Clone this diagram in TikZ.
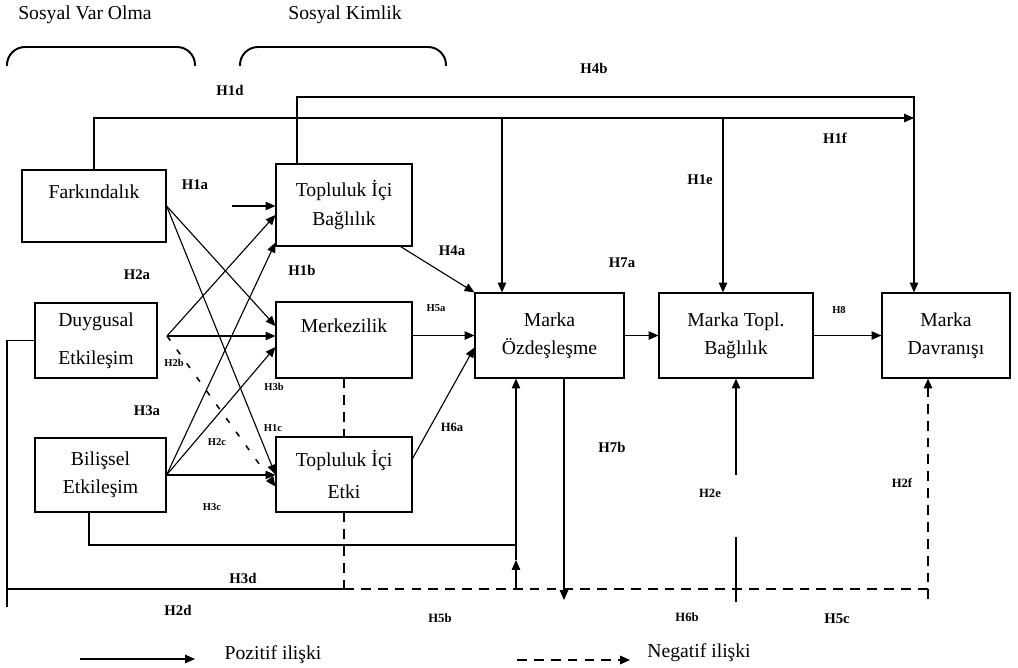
\documentclass[tikz,border=0pt]{standalone}
\usepackage{fontspec}
\setmainfont{Liberation Serif}
\usetikzlibrary{arrows.meta}

\begin{document}
\begin{tikzpicture}[x=0.025cm, y=-0.025cm,
    >={Triangle[length=7pt,width=6pt]},
    line width=0.8pt,
    box/.style={draw, rectangle, inner sep=0pt, align=center, font=\fontsize{14}{20}\selectfont},
    head/.style={font=\fontsize{14}{16}\selectfont},
    lab/.style={font=\fontsize{10.5}{12}\selectfont\bfseries, inner sep=1pt},
    labm/.style={font=\fontsize{9}{10}\selectfont\bfseries, inner sep=1pt},
    labs/.style={font=\fontsize{7.5}{9}\selectfont\bfseries, inner sep=1pt},
    neg/.style={dash pattern=on 7pt off 5pt, line width=1.1pt},
    negthin/.style={dash pattern=on 4pt off 8pt, line width=1.1pt},
    grp/.style={line width=1.4pt, rounded corners=0.45cm}]

    \useasboundingbox (0,0) rectangle (1018,668);

    % Group headings and brackets
    \node[head] (varOlma) at (85,15) {Sosyal Var Olma};
    \node[head] (kimlik) at (345,15) {Sosyal Kimlik};
    \draw[grp] (7,66) -- (7,47) -- (195,47) -- (195,66);
    \draw[grp] (240,66) -- (240,47) -- (446,47) -- (446,66);

    % Constructs
    \node[box, minimum width=3.6cm, minimum height=1.8cm] (fark) at (94,206) {Farkındalık\\\mbox{}};
    \node[box, minimum width=3.05cm, minimum height=1.875cm] (duyg) at (96,340.5) {Duygusal\\[7pt]Etkileşim};
    \node[box, minimum width=3.275cm, minimum height=1.85cm] (bil) at (100.5,475) {Bilişsel\\Etkileşim};
    \node[box, minimum width=3.4cm, minimum height=2.05cm] (bag) at (344,205) {Topluluk İçi\\Bağlılık};
    \node[box, minimum width=3.4cm, minimum height=1.9cm] (merk) at (344,340) {Merkezilik\\\mbox{}};
    \node[box, minimum width=3.4cm, minimum height=1.875cm] (etki) at (344,474.5) {Topluluk İçi\\[3pt]Etki};
    \node[box, minimum width=3.725cm, minimum height=2.125cm] (ozd) at (549.5,335.5) {Marka\\Özdeşleşme};
    \node[box, minimum width=3.85cm, minimum height=2.125cm] (topl) at (736,335.5) {Marka Topl.\\Bağlılık};
    \node[box, minimum width=3.2cm, minimum height=2.125cm] (davr) at (946,335.5) {Marka\\Davranışı};

    % Corner and junction points
    \coordinate (topR) at (914,97);
    \coordinate (h4bStart) at (297,97);
    \coordinate (h1dEnd) at (914,118);
    \coordinate (dropA) at (502,118);
    \coordinate (dropB) at (723,118);
    \coordinate (h1aStart) at (232,206);
    \coordinate (dOut) at (167,336);
    \coordinate (bilDrop) at (89,545);
    \coordinate (bilJoin) at (516,545);
    \coordinate (h5bUp) at (516,560);
    \coordinate (leftCorner) at (7,589);
    \coordinate (leftLow) at (7,607);
    \coordinate (h2fX) at (928,589);
    \coordinate (h2fLow) at (928,602);
    \coordinate (h7bEnd) at (564,600);
    \coordinate (h2eTop) at (736,475);
    \coordinate (h6bTop) at (736,537);
    \coordinate (h6bEnd) at (736,602);

    % Top lines
    \draw[->] (fark.north) |- (h1dEnd);
    \draw[->] (h4bStart |- bag.north) -- (h4bStart) -- (topR) -- (topR |- davr.north);
    \draw[->] (dropA) -- (dropA |- ozd.north);
    \draw[->] (dropB) -- (dropB |- topl.north);

    % Social presence to social identity
    \draw[->] (h1aStart) -- (h1aStart -| bag.west);
    \draw[->] (fark.east) -- ([yshift=0.35cm]merk.west);
    \draw[->] (fark.east) -- (etki.west);
    \draw[->] (dOut) -- ([yshift=-0.25cm]bag.west);
    \draw[->] (dOut) -- (dOut -| merk.west);
    \draw[->, negthin] (dOut) -- ([yshift=-0.3cm]etki.west);
    \draw[->] (bil.east) -- ([yshift=0.1cm]bag.south west);
    \draw[->] (bil.east) -- ([yshift=-0.175cm]merk.west);
    \draw[->] (bil.east) -- (bil.east -| etki.west);

    % Into the brand chain
    \draw[->] ([xshift=-0.3cm]bag.south east) -- (ozd.north west);
    \draw[->] (merk.east |- ozd.west) -- (ozd.west);
    \draw[->] ([yshift=0.4cm]etki.east) -- ([yshift=-0.3cm]ozd.west);
    \draw[->] (ozd.east) -- (topl.west);
    \draw[->] (topl.east) -- (davr.west);

    % Dashed links
    \draw[neg] (merk.south) -- (etki.north);
    \draw[neg] (etki.south) -- (etki.south |- leftCorner);
    \draw[->, neg] (etki.south |- leftCorner) -- (h2fX) -- (h2fX |- davr.south);
    \draw[neg] (h2fX) -- (h2fLow);

    % Bottom solid lines
    \draw (duyg.west) -| (leftLow);
    \draw (leftCorner) -- (etki.south |- leftCorner);
    \draw[->] (bilDrop |- bil.south) -- (bilDrop) -- (bilJoin) -- (bilJoin |- ozd.south);
    \draw[->] (h5bUp |- leftCorner) -- (h5bUp);
    \draw (h5bUp) -- (bilJoin);
    \draw[->] (h7bEnd |- ozd.south) -- (h7bEnd);
    \draw[->] (h2eTop) -- (topl.south);
    \draw (h6bTop) -- (h6bEnd);

    % Hypothesis labels
    \node[lab] (h1d) at (230,90) {H1d};
    \node[lab] (h4b) at (594,68) {H4b};
    \node[lab] (h1f) at (835,138) {H1f};
    \node[lab] (h1e) at (700,180) {H1e};
    \node[lab] (h1a) at (195,185) {H1a};
    \node[lab] (h2a) at (137,275) {H2a};
    \node[lab] (h1b) at (302,270) {H1b};
    \node[lab] (h4a) at (452,251) {H4a};
    \node[lab] (h7a) at (622,263) {H7a};
    \node[labs] (h5a) at (436,308) {H5a};
    \node[labs] (h8) at (839,310) {H8};
    \node[labs] (h2b) at (174,363) {H2b};
    \node[labs] (h3b) at (274,387) {H3b};
    \node[lab] (h3a) at (147,411) {H3a};
    \node[labs] (h1c) at (273,428) {H1c};
    \node[labs] (h2c) at (217,442) {H2c};
    \node[labm] (h6a) at (452,427) {H6a};
    \node[lab] (h7b) at (612,447) {H7b};
    \node[labs] (h3c) at (212,507) {H3c};
    \node[labm] (h2e) at (710,493) {H2e};
    \node[labm] (h2f) at (902,483) {H2f};
    \node[lab] (h3d) at (243,578) {H3d};
    \node[lab] (h2d) at (178,610) {H2d};
    \node[labm] (h5b) at (440,618) {H5b};
    \node[labm] (h6b) at (687,617) {H6b};
    \node[lab] (h5c) at (837,619) {H5c};

    % Legend
    \coordinate (posA) at (80,659);
    \coordinate (posB) at (195,659);
    \draw[->] (posA) -- (posB);
    \node[head] (posTxt) at (273,655) {Pozitif ilişki};
    \coordinate (negA) at (517,660);
    \coordinate (negB) at (630,660);
    \draw[->, neg] (negA) -- (negB);
    \node[head] (negTxt) at (699,653) {Negatif ilişki};
\end{tikzpicture}
\end{document}
